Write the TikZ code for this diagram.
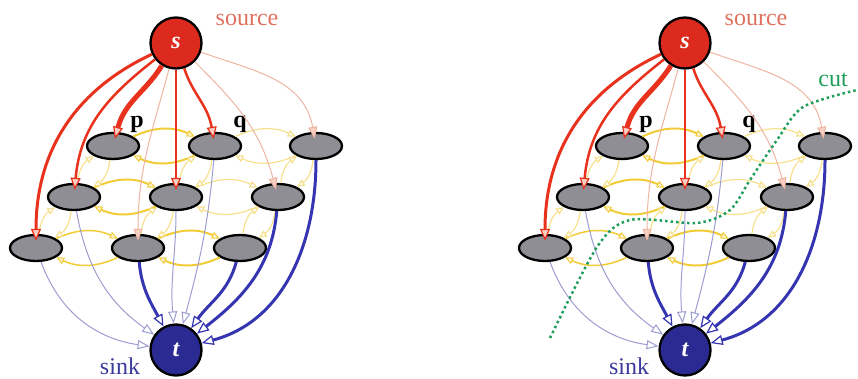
\documentclass[tikz,border=0pt]{standalone}
\usepackage{fontspec}
\setmainfont{Liberation Serif}
\usetikzlibrary{arrows.meta,shapes.geometric}
\definecolor{SourceClr}{HTML}{DC2A1E}
\definecolor{SinkClr}{HTML}{2B2A92}
\definecolor{RedEdgeClr}{HTML}{E8321E}
\definecolor{PaleRedClr}{HTML}{EDB5A2}
\definecolor{RedTipClr}{HTML}{F8D0C4}
\definecolor{BlueEdgeClr}{HTML}{3535B2}
\definecolor{PaleBlueClr}{HTML}{9C9CD2}
\definecolor{YellowClr}{HTML}{F2CC36}
\definecolor{PaleYellowClr}{HTML}{F7E08E}
\definecolor{PixelClr}{HTML}{8E8E94}
\definecolor{CutClr}{HTML}{1E9E5A}
\definecolor{SourceTxtClr}{HTML}{E0705E}
\definecolor{SinkTxtClr}{HTML}{3A3A9C}

\begin{document}
\begin{tikzpicture}[x=1pt,y=1pt,
  pixel/.style={ellipse,draw=black,line width=2.3pt,fill=PixelClr,minimum width=52pt,minimum height=26pt,inner sep=0pt},
  terminal/.style={circle,draw=black,line width=2.3pt,minimum size=51pt,inner sep=0pt,text=white,font=\fontsize{24}{24}\selectfont\bfseries\itshape},
  srcedge/.style={draw=RedEdgeClr,-{Triangle[length=12pt,width=10pt,line width=1.2pt,fill=RedTipClr]},shorten >=-7pt},
  palesrc/.style={draw=PaleRedClr,line width=1pt,-{Triangle[length=12pt,width=9pt,fill=RedTipClr]},shorten >=-7pt},
  snkedge/.style={draw=BlueEdgeClr,-{Triangle[length=12pt,width=10pt,line width=1.2pt,fill=white]}},
  palesnk/.style={draw=PaleBlueClr,line width=1pt,-{Triangle[length=12pt,width=9pt,fill=white]}},
  nlink/.style={draw=YellowClr,line width=2pt,-{Triangle[length=8pt,width=7pt,line width=1pt,fill=PaleYellowClr!40]}},
  palelink/.style={draw=PaleYellowClr,line width=1.2pt,-{Triangle[length=8pt,width=7pt,fill=white]}},
  lbl/.style={font=\fontsize{24}{24}\selectfont}]
\useasboundingbox (0,0) rectangle (858,378);

\foreach \dx in {0,509}{
\begin{scope}[xshift=\dx pt]
\node[terminal,fill=SourceClr] (s) at (176,335) {s};
\node[terminal,fill=SinkClr] (t) at (176,28) {t};

\node[pixel] (a1) at (113,232) {};
\node[pixel] (a2) at (215,232) {};
\node[pixel] (a3) at (316,232) {};
\node[pixel] (b1) at (74,181) {};
\node[pixel] (b2) at (176,181) {};
\node[pixel] (b3) at (278,181) {};
\node[pixel] (c1) at (36,130) {};
\node[pixel] (c2) at (138,130) {};
\node[pixel] (c3) at (240,130) {};

\node[lbl,text=SourceTxtClr] (srctxt) at (247,358) {source};
\node[lbl,text=SinkTxtClr] (snktxt) at (120,12) {sink};
\node[lbl,font=\fontsize{24}{24}\selectfont\bfseries] (ptxt) at (137,254) {p};
\node[lbl,font=\fontsize{24}{24}\selectfont\bfseries] (qtxt) at (240,254) {q};

\draw[nlink] (a1) edge[bend left=25] (a2) (a2) edge[bend left=25] (a1);
\draw[palelink] (a2) edge[bend left=25] (a3) (a3) edge[bend left=25] (a2);
\draw[nlink] (b1) edge[bend left=25] (b2) (b2) edge[bend left=25] (b1);
\draw[palelink] (b2) edge[bend left=25] (b3) (b3) edge[bend left=25] (b2);
\draw[nlink,line width=1.5pt] (c1) edge[bend left=25] (c2) (c2) edge[bend left=25] (c1);
\draw[nlink] (c2) edge[bend left=25] (c3) (c3) edge[bend left=25] (c2);
\draw[palelink] (a1) edge[bend left=25] (b1) (b1) edge[bend left=25] (a1);
\draw[palelink] (a2) edge[bend left=25] (b2) (b2) edge[bend left=25] (a2);
\draw[palelink] (a3) edge[bend left=25] (b3) (b3) edge[bend left=25] (a3);
\draw[palelink] (b1) edge[bend left=25] (c1) (c1) edge[bend left=25] (b1);
\draw[palelink] (b2) edge[bend left=25] (c2) (c2) edge[bend left=25] (b2);
\draw[palelink] (b3) edge[bend left=25] (c3) (c3) edge[bend left=25] (b3);

\draw[srcedge,line width=3pt] (s) to[out=205,in=90] (c1);
\draw[srcedge,line width=2.5pt] (s) to[out=218,in=85] (b1);
\draw[srcedge,line width=5pt] (s) to[out=238,in=75] (a1);
\draw[palesrc] (s) to[out=255,in=90] (c2);
\draw[srcedge,line width=2.5pt] (s) -- (b2);
\draw[srcedge,line width=2.5pt] (s) to[out=-72,in=100] (a2);
\draw[palesrc] (s) to[out=-45,in=105] (b3);
\draw[palesrc] (s) to[out=-20,in=100] (a3);

\draw[palesnk] (c1) to[out=-70,in=172] (t);
\draw[palesnk] (b1) to[out=-80,in=145] (t);
\draw[snkedge,line width=3pt] (c2) to[out=-85,in=118] (t);
\draw[palesnk] (b2) to[out=-90,in=95] (t);
\draw[palesnk] (a2) to[out=-95,in=75] (t);
\draw[snkedge,line width=3pt] (c3) to[out=-105,in=55] (t);
\draw[snkedge,line width=3pt] (b3) to[out=-95,in=38] (t);
\draw[snkedge,line width=3pt] (a3) to[out=-90,in=15] (t);
\end{scope}
}

\begin{scope}[xshift=509pt]
\draw[CutClr,line width=2.5pt,dash pattern=on 2.5pt off 3pt]
  plot[smooth] coordinates {(41,40) (88,131) (121,158) (188,155) (221,168) (241,198) (268,238) (294,271) (348,288)};
\node[lbl,text=CutClr] (cuttxt) at (324,298) {cut};
\end{scope}
\end{tikzpicture}
\end{document}
